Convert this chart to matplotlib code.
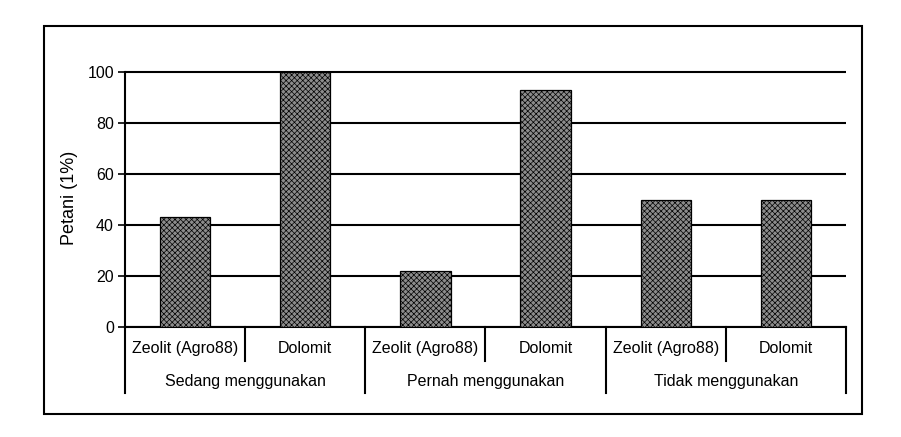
import numpy as np
import matplotlib
matplotlib.use("Agg")
import matplotlib.pyplot as plt
from matplotlib.patches import Rectangle
import matplotlib.transforms as mtransforms

plt.rcParams['font.family'] = ['Liberation Sans', 'DejaVu Sans']
plt.rcParams['hatch.linewidth'] = 0.5
plt.rcParams['hatch.color'] = '#1a1a1a'

groups = ['Sedang menggunakan', 'Pernah menggunakan', 'Tidak menggunakan']
products = ['Zeolit (Agro88)', 'Dolomit']
values = [43, 100, 22, 93, 50, 50]

fig = plt.figure(figsize=(9.01, 4.37), dpi=100)
# axes a bit taller than 0-100 so the top gridline isn't clipped
ax = fig.add_axes([125 / 901, 110 / 437, 721 / 901, 257.5 / 437])

x = np.arange(len(values))
ax.bar(x, values, width=0.42, color='#8c8c8c', edgecolor='black', linewidth=0.9,
       hatch='xxxxxx', zorder=3)

ax.set_xlim(-0.5, len(values) - 0.5)
ax.set_ylim(0, 101)
ax.set_yticks([0, 20, 40, 60, 80, 100])
ax.yaxis.grid(True, color='black', linewidth=1.5, zorder=0)
ax.set_axisbelow(True)
ax.tick_params(axis='y', direction='out', length=5, width=1.2, labelsize=11.5, pad=3)
ax.set_xticks([])
for s in ['top', 'right']:
    ax.spines[s].set_visible(False)
ax.spines['left'].set_linewidth(1.5)
ax.spines['left'].set_bounds(0, 100)
ax.spines['bottom'].set_linewidth(1.5)
ax.set_ylabel('Petani (1%)', fontsize=13)
ax.yaxis.set_label_coords(-0.065, 0.5)

trans = mtransforms.blended_transform_factory(ax.transData, ax.transAxes)
# category separators
for i in range(len(values) + 1):
    xb = i - 0.5
    y_end = -0.255 if i % 2 == 0 else -0.132
    ax.plot([xb, xb], [0, y_end], color='black', linewidth=1.5, transform=trans,
            clip_on=False)
for i in range(len(values)):
    ax.text(i, -0.085, products[i % 2], transform=trans, ha='center', va='center',
            fontsize=11.5)
for g, name in enumerate(groups):
    ax.text(2 * g + 0.5, -0.213, name, transform=trans, ha='center', va='center',
            fontsize=11.5)

# outer frame
fig.patches.append(Rectangle((44 / 901, 23 / 437), 818 / 901, 388 / 437,
                             transform=fig.transFigure, fill=False,
                             edgecolor='black', linewidth=1.5))

fig.savefig('out.png', dpi=100)
